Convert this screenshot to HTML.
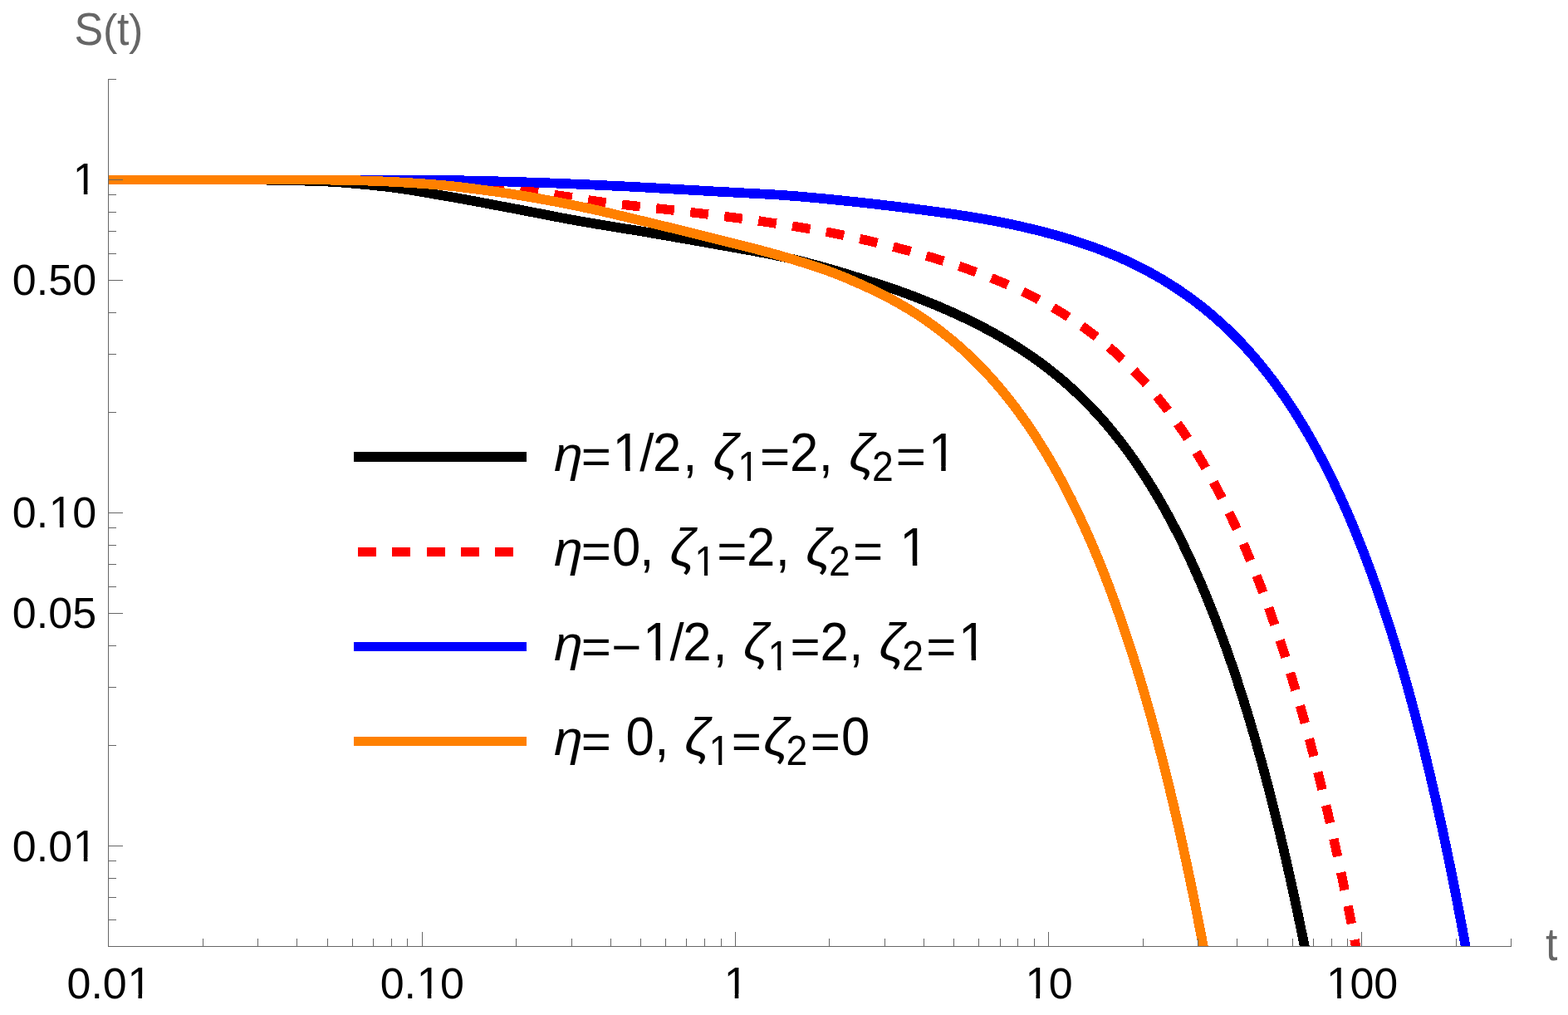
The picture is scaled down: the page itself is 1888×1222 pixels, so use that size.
<!DOCTYPE html>
<html lang="en"><head><meta charset="utf-8"><title>S(t)</title>
<style>html,body{margin:0;padding:0;background:#fff;}body{width:1888px;height:1222px;overflow:hidden;}svg{display:block;}text{font-family:"Liberation Sans",sans-serif;}</style>
</head><body>
<svg width="1888" height="1222" viewBox="0 0 1888 1222">
<rect width="1888" height="1222" fill="#fff"/>
<defs><clipPath id="pc"><rect x="130.0" y="95.5" width="1701.2" height="1044.1"/></clipPath></defs>
<g fill="none" shape-rendering="crispEdges" stroke-linejoin="round" stroke-linecap="butt" clip-path="url(#pc)">
<path d="M130.50,216.50 L304.50,216.51 L326.50,216.71 L350.50,217.18 L384.50,218.15 L392.50,218.51 L402.50,219.08 L414.50,219.93 L428.50,221.10 L444.50,222.62 L462.50,224.47 L468.50,225.16 L476.50,226.18 L484.50,227.32 L492.50,228.54 L508.50,231.17 L548.50,238.06 L562.50,240.56 L580.50,243.91 L630.50,253.39 L674.50,261.90 L696.50,265.98 L718.50,269.76 L768.50,277.88 L796.50,282.62 L834.50,289.24 L908.50,302.43 L920.50,304.71 L930.50,306.70 L940.50,308.81 L950.40,311.04 L960.15,313.37 L969.90,315.83 L981.60,318.91 L993.30,322.12 L1003.05,324.88 L1010.85,327.21 L1057.65,341.88 L1065.45,344.41 L1073.05,346.97 L1080.65,349.61 L1090.15,353.04 L1099.65,356.60 L1111.05,361.03 L1120.55,364.86 L1129.80,368.71 L1139.05,372.69 L1148.30,376.81 L1157.55,381.07 L1164.95,384.60 L1173.95,389.03 L1181.15,392.69 L1190.15,397.43 L1197.35,401.36 L1206.10,406.32 L1213.10,410.44 L1220.10,414.70 L1228.60,420.07 L1237.10,425.68 L1245.45,431.45 L1253.70,437.41 L1260.20,442.29 L1268.20,448.56 L1274.50,453.69 L1282.25,460.27 L1288.35,465.66 L1294.35,471.15 L1301.70,478.15 L1307.50,483.89 L1314.60,491.20 L1320.20,497.18 L1327.00,504.72 L1333.70,512.46 L1340.20,520.28 L1346.55,528.22 L1352.80,536.34 L1358.85,544.49 L1364.85,552.88 L1370.60,561.22 L1376.30,569.78 L1381.80,578.32 L1387.25,587.07 L1392.50,595.78 L1397.70,604.69 L1403.70,615.32 L1408.65,624.39 L1414.35,635.18 L1419.10,644.47 L1424.50,655.35 L1429.90,666.60 L1435.05,677.68 L1440.15,689.01 L1445.10,700.34 L1449.90,711.66 L1454.70,723.31 L1460.00,736.59 L1464.50,748.20 L1469.65,761.88 L1474.55,775.31 L1478.75,787.14 L1483.55,801.04 L1488.10,814.60 L1492.65,828.54 L1497.15,842.71 L1501.95,858.26 L1506.15,872.25 L1510.35,886.60 L1514.90,902.57 L1519.30,918.43 L1523.70,934.73 L1528.10,951.47 L1532.15,967.29 L1536.15,983.29 L1540.15,999.70 L1544.15,1016.50 L1548.50,1035.25 L1552.55,1053.16 L1556.60,1071.52 L1560.65,1090.34 L1564.25,1107.46 L1568.20,1126.68 L1572.20,1146.63" stroke="#000000" stroke-width="11.7"/>
<path id="redc" d="M130.50,216.50 L400.50,216.50 L418.50,216.60 L436.50,216.86 L462.50,217.35 L484.50,217.96 L498.50,218.48 L514.50,219.19 L532.50,220.10 L546.50,220.88 L562.50,222.03 L578.50,223.41 L596.50,225.15 L610.50,226.74 L638.50,230.41 L656.50,232.92 L680.50,236.46 L712.50,241.54 L726.50,243.47 L740.50,245.22 L760.50,247.56 L800.50,251.94 L840.50,256.62 L878.50,261.29 L896.50,263.65 L912.50,265.83 L928.50,268.14 L944.50,270.57 L958.50,272.79 L972.50,275.14 L986.50,277.62 L998.50,279.87 L1012.50,282.64 L1024.50,285.14 L1038.50,288.20 L1052.25,291.36 L1065.90,294.65 L1077.60,297.60 L1091.25,301.20 L1102.95,304.42 L1114.65,307.77 L1126.35,311.27 L1138.05,314.91 L1149.65,318.68 L1161.05,322.56 L1172.45,326.61 L1183.85,330.85 L1193.35,334.55 L1202.80,338.38 L1212.05,342.30 L1221.30,346.40 L1230.55,350.68 L1239.65,355.10 L1248.65,359.68 L1257.65,364.48 L1264.70,368.41 L1273.45,373.51 L1280.45,377.77 L1288.95,383.18 L1297.45,388.87 L1305.70,394.66 L1312.30,399.50 L1320.30,405.63 L1326.70,410.75 L1334.45,417.22 L1342.10,423.91 L1348.10,429.38 L1355.50,436.40 L1362.75,443.60 L1369.80,450.90 L1375.40,456.93 L1382.15,464.48 L1388.80,472.23 L1395.30,480.11 L1401.60,488.05 L1407.85,496.24 L1413.85,504.39 L1419.80,512.78 L1425.55,521.19 L1432.30,531.43 L1437.80,540.10 L1444.20,550.56 L1449.45,559.45 L1455.50,570.06 L1460.50,579.12 L1466.25,589.90 L1471.95,600.95 L1477.40,611.89 L1482.80,623.10 L1488.00,634.24 L1493.10,645.52 L1498.90,658.78 L1504.50,672.03 L1509.25,683.64 L1514.50,696.86 L1519.00,708.54 L1524.10,722.16 L1529.00,735.66 L1533.90,749.57 L1538.55,763.16 L1543.75,778.82 L1548.30,792.93 L1552.65,806.80 L1557.45,822.53 L1561.65,836.68 L1566.40,853.13 L1570.80,868.80 L1575.20,884.89 L1579.60,901.42 L1584.35,919.77 L1588.85,937.65 L1592.85,953.97 L1596.85,970.68 L1601.30,989.77 L1605.80,1009.60 L1609.85,1027.92 L1613.90,1046.70 L1617.95,1065.95 L1621.90,1085.18 L1625.90,1105.14 L1629.90,1125.60 L1633.90,1146.55" stroke="#ff0000" stroke-width="11.399999999999999" stroke-dasharray="21.8 19.525" stroke-dashoffset="40.90"/>
<path d="M130.50,216.50 L420.50,216.50 L450.50,216.55 L492.50,216.74 L542.50,217.12 L560.50,217.38 L582.50,217.87 L626.50,219.09 L656.50,220.12 L706.50,222.18 L746.50,224.09 L780.50,225.83 L806.50,227.37 L866.50,230.77 L928.50,234.07 L938.50,234.70 L950.50,235.57 L962.50,236.53 L976.50,237.76 L996.50,239.65 L1014.50,241.44 L1034.50,243.57 L1054.50,245.80 L1074.50,248.14 L1092.50,250.35 L1110.50,252.67 L1128.50,255.10 L1144.50,257.37 L1158.50,259.46 L1172.50,261.67 L1184.50,263.69 L1194.50,265.48 L1206.50,267.80 L1218.50,270.27 L1230.50,272.92 L1242.20,275.66 L1253.90,278.55 L1265.60,281.61 L1277.30,284.87 L1289.00,288.35 L1298.75,291.43 L1308.30,294.63 L1317.80,298.00 L1327.30,301.56 L1336.80,305.34 L1346.05,309.22 L1355.30,313.33 L1364.55,317.68 L1373.55,322.14 L1382.55,326.86 L1391.45,331.78 L1400.20,336.88 L1408.85,342.20 L1417.35,347.70 L1425.80,353.43 L1434.05,359.31 L1442.20,365.41 L1450.20,371.70 L1458.00,378.14 L1465.75,384.84 L1473.25,391.64 L1480.65,398.67 L1487.90,405.86 L1494.95,413.16 L1501.90,420.68 L1508.65,428.29 L1515.25,436.05 L1521.75,443.99 L1528.00,451.94 L1534.20,460.12 L1541.40,470.03 L1547.25,478.40 L1554.15,488.67 L1560.75,498.90 L1566.20,507.67 L1572.50,518.17 L1578.65,528.82 L1584.65,539.61 L1590.45,550.42 L1596.15,561.42 L1601.65,572.40 L1607.05,583.55 L1613.15,596.59 L1618.25,607.87 L1624.05,621.14 L1629.65,634.40 L1635.15,647.88 L1640.40,661.17 L1645.65,674.89 L1650.65,688.38 L1656.25,703.98 L1661.10,717.93 L1666.30,733.35 L1670.85,747.25 L1676.00,763.45 L1680.80,779.02 L1685.60,795.06 L1690.40,811.57 L1695.40,829.29 L1700.35,847.37 L1704.75,863.91 L1709.50,882.27 L1714.00,900.16 L1718.50,918.55 L1723.00,937.46 L1727.35,956.23 L1731.85,976.18 L1736.35,996.69 L1740.40,1015.63 L1744.90,1037.24 L1749.00,1057.44 L1753.40,1079.70 L1757.40,1100.46 L1761.80,1123.89 L1765.80,1145.74" stroke="#0000ff" stroke-width="11.7"/>
<path d="M130.50,216.50 L386.50,216.52 L402.50,216.70 L426.50,217.14 L440.50,217.55 L460.50,218.32 L470.50,218.78 L482.50,219.42 L506.50,220.94 L526.50,222.48 L538.50,223.56 L546.50,224.36 L556.50,225.50 L566.50,226.75 L586.50,229.36 L598.50,231.00 L608.50,232.44 L618.50,233.96 L628.50,235.58 L640.50,237.61 L654.50,240.11 L668.50,242.73 L684.50,245.86 L700.50,249.10 L710.50,251.22 L722.50,253.90 L734.20,256.60 L749.80,260.32 L802.45,272.99 L827.80,279.18 L851.20,284.99 L903.85,298.22 L919.45,302.31 L935.05,306.59 L952.60,311.69 L968.20,316.45 L979.85,320.20 L989.35,323.41 L1000.75,327.48 L1008.35,330.39 L1017.75,334.24 L1028.85,339.01 L1039.95,343.93 L1051.05,349.06 L1060.15,353.48 L1069.15,358.10 L1076.35,361.96 L1085.15,366.91 L1093.90,372.10 L1102.50,377.46 L1111.00,383.04 L1117.70,387.65 L1125.95,393.58 L1132.45,398.47 L1138.85,403.48 L1146.70,409.89 L1152.90,415.18 L1160.50,421.94 L1166.50,427.50 L1173.80,434.55 L1179.60,440.38 L1186.60,447.69 L1192.15,453.72 L1198.90,461.32 L1204.20,467.52 L1210.70,475.40 L1217.00,483.34 L1223.25,491.53 L1229.25,499.69 L1235.20,508.08 L1240.95,516.48 L1246.60,525.03 L1252.10,533.64 L1257.50,542.38 L1262.75,551.16 L1268.90,561.80 L1273.90,570.76 L1279.75,581.59 L1284.50,590.67 L1290.10,601.72 L1295.50,612.74 L1300.85,624.03 L1305.95,635.13 L1311.05,646.58 L1315.90,657.81 L1320.70,669.26 L1325.40,680.80 L1330.65,694.08 L1335.15,705.81 L1340.20,719.36 L1345.10,732.92 L1350.00,746.89 L1354.60,760.38 L1359.15,774.11 L1363.70,788.23 L1368.05,802.10 L1372.85,817.83 L1377.05,831.98 L1381.25,846.50 L1385.65,862.11 L1390.05,878.15 L1394.45,894.63 L1398.75,911.16 L1402.75,926.94 L1406.75,943.10 L1410.75,959.67 L1414.75,976.64 L1418.95,994.91 L1423.00,1012.98 L1427.05,1031.51 L1431.10,1050.49 L1434.70,1067.77 L1438.50,1086.42 L1442.50,1106.53 L1446.50,1127.13 L1450.10,1146.11" stroke="#ff8000" stroke-width="11.7"/>
</g>
<g fill="#666666" shape-rendering="crispEdges">
<rect x="130" y="95" width="1" height="1045"/>
<rect x="130" y="1139" width="1690" height="1"/>
<rect x="244" y="1130" width="1" height="9"/>
<rect x="310" y="1130" width="1" height="9"/>
<rect x="357" y="1130" width="1" height="9"/>
<rect x="394" y="1130" width="1" height="9"/>
<rect x="424" y="1130" width="1" height="9"/>
<rect x="449" y="1130" width="1" height="9"/>
<rect x="471" y="1130" width="1" height="9"/>
<rect x="490" y="1130" width="1" height="9"/>
<rect x="508" y="1122" width="1" height="17"/>
<rect x="621" y="1130" width="1" height="9"/>
<rect x="688" y="1130" width="1" height="9"/>
<rect x="735" y="1130" width="1" height="9"/>
<rect x="771" y="1130" width="1" height="9"/>
<rect x="801" y="1130" width="1" height="9"/>
<rect x="826" y="1130" width="1" height="9"/>
<rect x="848" y="1130" width="1" height="9"/>
<rect x="868" y="1130" width="1" height="9"/>
<rect x="885" y="1122" width="1" height="17"/>
<rect x="998" y="1130" width="1" height="9"/>
<rect x="1065" y="1130" width="1" height="9"/>
<rect x="1112" y="1130" width="1" height="9"/>
<rect x="1148" y="1130" width="1" height="9"/>
<rect x="1178" y="1130" width="1" height="9"/>
<rect x="1204" y="1130" width="1" height="9"/>
<rect x="1225" y="1130" width="1" height="9"/>
<rect x="1245" y="1130" width="1" height="9"/>
<rect x="1262" y="1122" width="1" height="17"/>
<rect x="1376" y="1130" width="1" height="9"/>
<rect x="1442" y="1130" width="1" height="9"/>
<rect x="1489" y="1130" width="1" height="9"/>
<rect x="1526" y="1130" width="1" height="9"/>
<rect x="1556" y="1130" width="1" height="9"/>
<rect x="1581" y="1130" width="1" height="9"/>
<rect x="1603" y="1130" width="1" height="9"/>
<rect x="1622" y="1130" width="1" height="9"/>
<rect x="1639" y="1122" width="1" height="17"/>
<rect x="1753" y="1130" width="1" height="9"/>
<rect x="1819" y="1130" width="1" height="9"/>
<rect x="131" y="1107" width="9" height="1"/>
<rect x="131" y="1080" width="9" height="1"/>
<rect x="131" y="1057" width="9" height="1"/>
<rect x="131" y="1036" width="9" height="1"/>
<rect x="131" y="1018" width="17" height="1"/>
<rect x="131" y="897" width="9" height="1"/>
<rect x="131" y="827" width="9" height="1"/>
<rect x="131" y="777" width="9" height="1"/>
<rect x="131" y="738" width="17" height="1"/>
<rect x="131" y="706" width="9" height="1"/>
<rect x="131" y="679" width="9" height="1"/>
<rect x="131" y="656" width="9" height="1"/>
<rect x="131" y="635" width="9" height="1"/>
<rect x="131" y="617" width="17" height="1"/>
<rect x="131" y="496" width="9" height="1"/>
<rect x="131" y="426" width="9" height="1"/>
<rect x="131" y="376" width="9" height="1"/>
<rect x="131" y="337" width="17" height="1"/>
<rect x="131" y="305" width="9" height="1"/>
<rect x="131" y="278" width="9" height="1"/>
<rect x="131" y="255" width="9" height="1"/>
<rect x="131" y="234" width="9" height="1"/>
<rect x="131" y="216" width="17" height="1"/>
<rect x="131" y="95" width="9" height="1"/>
</g>
<text transform="translate(0,234.05) scale(1,1.0)" y="0" font-size="52.0" fill="#000"><tspan x="87.73" font-size="53.56" textLength="28.92" lengthAdjust="spacingAndGlyphs">1</tspan></text>
<text transform="translate(0,355.01) scale(1,1.0)" y="0" font-size="52.0" fill="#000"><tspan x="14.84">0</tspan><tspan x="43.76">.</tspan><tspan x="58.21">5</tspan><tspan x="87.13">0</tspan></text>
<text transform="translate(0,635.30) scale(1,1.0)" y="0" font-size="52.0" fill="#000"><tspan x="14.84">0</tspan><tspan x="43.76">.</tspan><tspan x="58.81" font-size="53.56" textLength="28.92" lengthAdjust="spacingAndGlyphs">1</tspan><tspan x="87.13">0</tspan></text>
<text transform="translate(0,756.01) scale(1,1.0)" y="0" font-size="52.0" fill="#000"><tspan x="14.84">0</tspan><tspan x="43.76">.</tspan><tspan x="58.21">0</tspan><tspan x="87.13">5</tspan></text>
<text transform="translate(0,1037.05) scale(1,1.0)" y="0" font-size="52.0" fill="#000"><tspan x="14.84">0</tspan><tspan x="43.76">.</tspan><tspan x="58.21">0</tspan><tspan x="87.73" font-size="53.56" textLength="28.92" lengthAdjust="spacingAndGlyphs">1</tspan></text>
<text transform="translate(0,1201.60) scale(1,1.0)" y="0" font-size="52.0" fill="#000"><tspan x="80.50">0</tspan><tspan x="109.42">.</tspan><tspan x="123.86">0</tspan><tspan x="153.38" font-size="53.56" textLength="28.92" lengthAdjust="spacingAndGlyphs">1</tspan></text>
<text transform="translate(0,1201.60) scale(1,1.0)" y="0" font-size="52.0" fill="#000"><tspan x="457.70">0</tspan><tspan x="486.62">.</tspan><tspan x="501.66" font-size="53.56" textLength="28.92" lengthAdjust="spacingAndGlyphs">1</tspan><tspan x="529.98">0</tspan></text>
<text transform="translate(0,1201.60) scale(1,1.0)" y="0" font-size="52.0" fill="#000"><tspan x="871.64" font-size="53.56" textLength="28.92" lengthAdjust="spacingAndGlyphs">1</tspan></text>
<text transform="translate(0,1201.60) scale(1,1.0)" y="0" font-size="52.0" fill="#000"><tspan x="1234.38" font-size="53.56" textLength="28.92" lengthAdjust="spacingAndGlyphs">1</tspan><tspan x="1262.70">0</tspan></text>
<text transform="translate(0,1201.60) scale(1,1.0)" y="0" font-size="52.0" fill="#000"><tspan x="1597.12" font-size="53.56" textLength="28.92" lengthAdjust="spacingAndGlyphs">1</tspan><tspan x="1625.44">0</tspan><tspan x="1654.36">0</tspan></text>
<text y="54.3" font-size="52.0" fill="#666666"><tspan x="89.5" font-size="54.96" textLength="34.68" lengthAdjust="spacingAndGlyphs">S</tspan><tspan x="123.88">(</tspan><tspan x="140.90" font-size="54.96" textLength="14.45" lengthAdjust="spacingAndGlyphs">t</tspan><tspan x="154.95">)</tspan></text>
<text x="1861" y="1156.3" font-size="54.96" fill="#666666" textLength="14.45" lengthAdjust="spacingAndGlyphs">t</text>
<line shape-rendering="crispEdges" x1="426" y1="550.0" x2="634" y2="550.0" stroke="#000000" stroke-width="11.7"/>
<text transform="translate(0,567.10) scale(1,1.065)" font-size="61.7" fill="#000" xml:space="preserve"><tspan x="667.06" y="0" font-size="56.1" font-style="italic" textLength="34.82" lengthAdjust="spacingAndGlyphs">η</tspan><tspan x="699.87" y="2.98" font-size="55.0" textLength="36.18" lengthAdjust="spacingAndGlyphs">=</tspan><tspan x="737.63" y="0">1</tspan><tspan x="770.20" y="0" font-size="58.92" textLength="17.14" lengthAdjust="spacingAndGlyphs">/</tspan><tspan x="785.90" y="0">2</tspan><tspan x="822.16" y="0">,</tspan><tspan x="839.30" y="0" font-size="18.5"> </tspan><tspan x="858.52" y="0" font-size="59.25" font-style="italic" textLength="30.75" lengthAdjust="spacingAndGlyphs">ζ</tspan><tspan x="888.23" y="11.17" font-size="46.4">1</tspan><tspan x="915.07" y="2.98" font-size="55.0" textLength="36.18" lengthAdjust="spacingAndGlyphs">=</tspan><tspan x="951.00" y="0">2</tspan><tspan x="985.76" y="0">,</tspan><tspan x="1002.90" y="0" font-size="18.5"> </tspan><tspan x="1022.22" y="0" font-size="59.25" font-style="italic" textLength="30.75" lengthAdjust="spacingAndGlyphs">ζ</tspan><tspan x="1049.97" y="11.17" font-size="46.4">2</tspan><tspan x="1078.87" y="2.98" font-size="55.0" textLength="36.18" lengthAdjust="spacingAndGlyphs">=</tspan><tspan x="1117.73" y="0">1</tspan></text>
<line shape-rendering="crispEdges" x1="426" y1="664.3" x2="634" y2="664.3" stroke="#ff0000" stroke-width="11.399999999999999" stroke-dasharray="21.9 19.45" stroke-dashoffset="36.35"/>
<text transform="translate(0,681.23) scale(1,1.065)" font-size="61.7" fill="#000" xml:space="preserve"><tspan x="667.06" y="0" font-size="56.1" font-style="italic" textLength="34.82" lengthAdjust="spacingAndGlyphs">η</tspan><tspan x="699.87" y="2.98" font-size="55.0" textLength="36.18" lengthAdjust="spacingAndGlyphs">=</tspan><tspan x="737.09" y="0">0</tspan><tspan x="770.26" y="0">,</tspan><tspan x="787.40" y="0" font-size="18.5"> </tspan><tspan x="806.62" y="0" font-size="59.25" font-style="italic" textLength="30.75" lengthAdjust="spacingAndGlyphs">ζ</tspan><tspan x="836.33" y="11.17" font-size="46.4">1</tspan><tspan x="863.17" y="2.98" font-size="55.0" textLength="36.18" lengthAdjust="spacingAndGlyphs">=</tspan><tspan x="899.10" y="0">2</tspan><tspan x="933.86" y="0">,</tspan><tspan x="951.00" y="0" font-size="18.5"> </tspan><tspan x="970.32" y="0" font-size="59.25" font-style="italic" textLength="30.75" lengthAdjust="spacingAndGlyphs">ζ</tspan><tspan x="998.07" y="11.17" font-size="46.4">2</tspan><tspan x="1026.97" y="2.98" font-size="55.0" textLength="36.18" lengthAdjust="spacingAndGlyphs">=</tspan><tspan x="1063.16" y="0" font-size="18.5"> </tspan><tspan x="1083.33" y="0">1</tspan></text>
<line shape-rendering="crispEdges" x1="426" y1="778.5" x2="634" y2="778.5" stroke="#0000ff" stroke-width="11.7"/>
<text transform="translate(0,795.36) scale(1,1.065)" font-size="61.7" fill="#000" xml:space="preserve"><tspan x="667.06" y="0" font-size="56.1" font-style="italic" textLength="34.82" lengthAdjust="spacingAndGlyphs">η</tspan><tspan x="699.87" y="2.98" font-size="55.0" textLength="36.18" lengthAdjust="spacingAndGlyphs">=</tspan><tspan x="736.14" y="3.17" font-size="55.0" textLength="36.18" lengthAdjust="spacingAndGlyphs">−</tspan><tspan x="774.03" y="0">1</tspan><tspan x="806.60" y="0" font-size="58.92" textLength="17.14" lengthAdjust="spacingAndGlyphs">/</tspan><tspan x="822.30" y="0">2</tspan><tspan x="858.56" y="0">,</tspan><tspan x="875.70" y="0" font-size="18.5"> </tspan><tspan x="894.92" y="0" font-size="59.25" font-style="italic" textLength="30.75" lengthAdjust="spacingAndGlyphs">ζ</tspan><tspan x="924.63" y="11.17" font-size="46.4">1</tspan><tspan x="951.47" y="2.98" font-size="55.0" textLength="36.18" lengthAdjust="spacingAndGlyphs">=</tspan><tspan x="987.40" y="0">2</tspan><tspan x="1022.16" y="0">,</tspan><tspan x="1039.30" y="0" font-size="18.5"> </tspan><tspan x="1058.62" y="0" font-size="59.25" font-style="italic" textLength="30.75" lengthAdjust="spacingAndGlyphs">ζ</tspan><tspan x="1086.37" y="11.17" font-size="46.4">2</tspan><tspan x="1115.27" y="2.98" font-size="55.0" textLength="36.18" lengthAdjust="spacingAndGlyphs">=</tspan><tspan x="1154.13" y="0">1</tspan></text>
<line shape-rendering="crispEdges" x1="426" y1="892.4" x2="634" y2="892.4" stroke="#ff8000" stroke-width="11.7"/>
<text transform="translate(0,909.49) scale(1,1.065)" font-size="61.7" fill="#000" xml:space="preserve"><tspan x="667.06" y="0" font-size="56.1" font-style="italic" textLength="34.82" lengthAdjust="spacingAndGlyphs">η</tspan><tspan x="699.87" y="2.98" font-size="55.0" textLength="36.18" lengthAdjust="spacingAndGlyphs">=</tspan><tspan x="736.06" y="0" font-size="18.5"> </tspan><tspan x="753.49" y="0">0</tspan><tspan x="788.16" y="0">,</tspan><tspan x="805.30" y="0" font-size="18.5"> </tspan><tspan x="824.32" y="0" font-size="59.25" font-style="italic" textLength="30.75" lengthAdjust="spacingAndGlyphs">ζ</tspan><tspan x="853.53" y="11.17" font-size="46.4">1</tspan><tspan x="880.87" y="2.98" font-size="55.0" textLength="36.18" lengthAdjust="spacingAndGlyphs">=</tspan><tspan x="919.22" y="0" font-size="59.25" font-style="italic" textLength="30.75" lengthAdjust="spacingAndGlyphs">ζ</tspan><tspan x="946.47" y="11.17" font-size="46.4">2</tspan><tspan x="975.77" y="2.98" font-size="55.0" textLength="36.18" lengthAdjust="spacingAndGlyphs">=</tspan><tspan x="1012.89" y="0">0</tspan></text>
<g fill="#fff"><rect x="90.69" y="229.05" width="10.12" height="6.00"/><rect x="105.40" y="229.05" width="9.71" height="6.00"/><rect x="61.77" y="630.30" width="10.12" height="6.00"/><rect x="76.48" y="630.30" width="9.71" height="6.00"/><rect x="90.69" y="1032.05" width="10.12" height="6.00"/><rect x="105.40" y="1032.05" width="9.71" height="6.00"/><rect x="156.35" y="1196.60" width="10.12" height="6.00"/><rect x="171.05" y="1196.60" width="9.71" height="6.00"/><rect x="504.63" y="1196.60" width="10.12" height="6.00"/><rect x="519.33" y="1196.60" width="9.71" height="6.00"/><rect x="874.60" y="1196.60" width="10.12" height="6.00"/><rect x="889.31" y="1196.60" width="9.71" height="6.00"/><rect x="1237.34" y="1196.60" width="10.12" height="6.00"/><rect x="1252.05" y="1196.60" width="9.71" height="6.00"/><rect x="1600.08" y="1196.60" width="10.12" height="6.00"/><rect x="1614.79" y="1196.60" width="9.71" height="6.00"/><rect x="741.34" y="561.19" width="11.82" height="6.91"/><rect x="758.60" y="561.19" width="11.33" height="6.91"/><rect x="890.77" y="574.31" width="9.13" height="5.69"/><rect x="904.00" y="574.31" width="8.77" height="5.69"/><rect x="1121.44" y="561.19" width="11.82" height="6.91"/><rect x="1138.70" y="561.19" width="11.33" height="6.91"/><rect x="838.87" y="688.44" width="9.13" height="5.69"/><rect x="852.10" y="688.44" width="8.77" height="5.69"/><rect x="1087.04" y="675.32" width="11.82" height="6.91"/><rect x="1104.30" y="675.32" width="11.33" height="6.91"/><rect x="777.74" y="789.45" width="11.82" height="6.91"/><rect x="795.00" y="789.45" width="11.33" height="6.91"/><rect x="927.17" y="802.57" width="9.13" height="5.69"/><rect x="940.40" y="802.57" width="8.77" height="5.69"/><rect x="1157.84" y="789.45" width="11.82" height="6.91"/><rect x="1175.10" y="789.45" width="11.33" height="6.91"/><rect x="856.07" y="916.70" width="9.13" height="5.69"/><rect x="869.30" y="916.70" width="8.77" height="5.69"/></g>
</svg>
</body></html>
